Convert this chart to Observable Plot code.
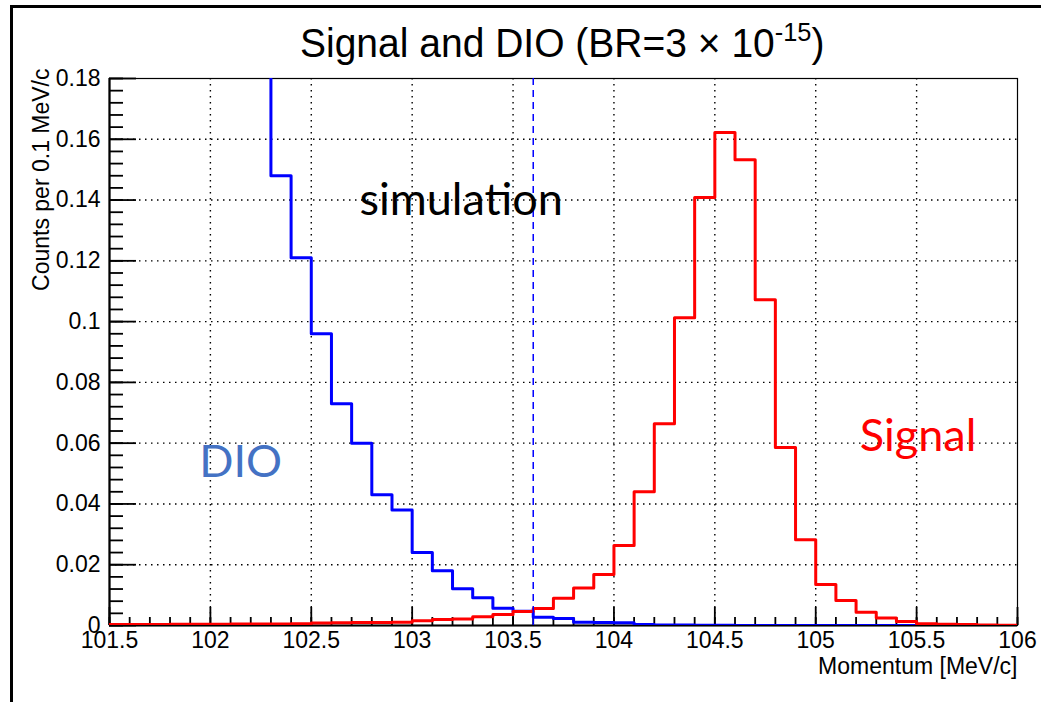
<!DOCTYPE html>
<html>
<head>
<meta charset="utf-8">
<script src="https://cdn.jsdelivr.net/npm/d3@7"></script>
<script src="https://cdn.jsdelivr.net/npm/@observablehq/plot@0.6"></script>
<style>
  html, body { margin: 0; padding: 0; background: #fff; }
  #wrap { position: relative; width: 1041px; height: 702px; overflow: hidden;
          font-family: "Liberation Sans", Arial, sans-serif; }
  #wrap svg { position: absolute; left: 0; top: 0; }
  #border { position: absolute; left: 10px; top: 5px; width: 1100px; height: 800px;
            border-top: 3px solid #000; border-left: 3px solid #000; }
  #title { position: absolute; left: 300px; top: 23px; font-size: 40px; line-height: 40px;
           white-space: nowrap; color: #000; transform: scaleX(0.975); transform-origin: 0 0; }
  #title sup { font-size: 26px; line-height: 0; position: relative; top: -2px; }
</style>
</head>
<body>
<div id="wrap">
  <div id="border"></div>
  <div id="title">Signal and DIO (BR=3 × 10<sup>-15</sup>)</div>
</div>
<script>
// Momentum bins: 45 bins of 0.1 MeV/c from 101.5 to 106
const binLow = d3.range(45).map(i => +(101.5 + 0.1 * i).toFixed(1));
const binHigh = 106;

// Decay-in-orbit spectrum (counts per bin); the first bins run off the top of the frame
const dio = [
  0.62, 0.55, 0.48, 0.42, 0.36, 0.31, 0.26, 0.215,
  0.148, 0.121, 0.096, 0.073, 0.060, 0.043, 0.038,
  0.024, 0.018, 0.0121, 0.0091, 0.0057, 0.0047, 0.0027, 0.0023,
  0.0011, 0.0010, 0.0009, 0.0003, 0.0002, 0.0002, 0.0001, 0.0001,
  0, 0, 0, 0, 0, 0, 0, 0, 0, 0, 0, 0, 0, 0
];

// Conversion-electron signal spectrum (counts per bin)
const signal = [
  0.0003, 0.0003, 0.0003, 0.0004, 0.0004, 0.0004, 0.0005, 0.0005,
  0.0005, 0.0006, 0.0008, 0.0009, 0.0010, 0.0010, 0.0011,
  0.0016, 0.0020, 0.0021, 0.0029, 0.0036, 0.0046, 0.0056, 0.0090,
  0.0123, 0.0168, 0.0263, 0.0440, 0.0664, 0.1013, 0.1408, 0.1622,
  0.1533, 0.1072, 0.0586, 0.0282, 0.0135, 0.0082, 0.0044, 0.0025,
  0.0013, 0.0006, 0.0004, 0.0003, 0.0002, 0.0001
];

// Momentum cut shown as the dashed line
const momentumCut = [103.6];

// Axis ticks
const xMajor = [101.5, 102, 102.5, 103, 103.5, 104, 104.5, 105, 105.5, 106];
const xMinor = d3.range(46).map(i => +(101.5 + 0.1 * i).toFixed(1));
const yMajor = [0, 0.02, 0.04, 0.06, 0.08, 0.1, 0.12, 0.14, 0.16, 0.18];
const yMinor = d3.range(46).map(i => +(0.004 * i).toFixed(3));

// Text labels
const annotations = ["simulation", "DIO", "Signal"];
const xTitle = "Momentum [MeV/c]";
const yTitle = "Counts per 0.1 MeV/c";

// Step-histogram outline: one vertex per bin edge, closing at the upper edge
function steps(values) {
  const pts = binLow.map((x, i) => ({x, y: values[i]}));
  pts.push({x: binHigh, y: values[values.length - 1]});
  return pts;
}

const W = 1041, H = 702;
const mL = 109, mR = 24, mT = 78, mB = 77;
const innerW = W - mL - mR, innerH = H - mT - mB;

const blue = "#0000ff", red = "#ff0000";
const dotted = "1.5,4.5";

const chart = Plot.plot({
  width: W,
  height: H,
  marginLeft: mL, marginRight: mR, marginTop: mT, marginBottom: mB,
  style: {fontFamily: "'Liberation Sans', Arial, sans-serif", fontSize: "23px", color: "#000", background: "transparent"},
  x: {domain: [101.5, 106], label: null},
  y: {domain: [0, 0.18], label: null},
  marks: [
    // dotted grid at major ticks
    Plot.ruleX(xMajor.slice(1, -1), {stroke: "#000", strokeWidth: 1.4, strokeDasharray: dotted}),
    Plot.ruleY(yMajor.slice(1, -1), {stroke: "#000", strokeWidth: 1.4, strokeDasharray: dotted}),
    Plot.frame({stroke: "#000", strokeWidth: 1.2}),
    // inward ticks
    Plot.ruleX(xMinor, {stroke: "#000", strokeWidth: 1.8, insetTop: innerH - 8}),
    Plot.ruleX(xMajor, {stroke: "#000", strokeWidth: 1.8, insetTop: innerH - 18}),
    Plot.ruleY(yMinor, {stroke: "#000", strokeWidth: 1.8, insetRight: innerW - 14}),
    Plot.ruleY(yMajor, {stroke: "#000", strokeWidth: 1.8, insetRight: innerW - 27}),
    // axis lines
    Plot.ruleX([101.5], {stroke: "#000", strokeWidth: 2.2}),
    Plot.ruleY([0], {stroke: "#000", strokeWidth: 2.2}),
    // histograms
    Plot.line(steps(dio), {x: "x", y: "y", curve: "step-after", stroke: blue, strokeWidth: 3, clip: true}),
    Plot.line(steps(signal), {x: "x", y: "y", curve: "step-after", stroke: red, strokeWidth: 3, clip: true}),
    // momentum cut
    Plot.ruleX(momentumCut, {stroke: blue, strokeWidth: 1.5, strokeDasharray: "7,5"}),
    // tick labels
    Plot.axisX(xMajor, {tickSize: 0, tickPadding: 6, fontSize: 23, tickFormat: d => String(d), label: null}),
    Plot.axisY(yMajor, {tickSize: 0, tickPadding: 9, fontSize: 23, tickFormat: d => String(d), label: null}),
    // axis titles
    Plot.text([xTitle], {frameAnchor: "bottom-right", textAnchor: "end", lineAnchor: "top", dy: 32, fontSize: 23}),
    Plot.text([yTitle], {frameAnchor: "top-left", rotate: -90, textAnchor: "end", lineAnchor: "middle", dx: -68, dy: -10, fontSize: 23}),
    // annotations
    Plot.text([annotations[0]], {x: () => 103.243, y: () => 0.1399, fontFamily: "Lato", fontSize: 45, fill: "#000"}),
    Plot.text([annotations[1]], {x: () => 102.15, y: () => 0.0537, fontFamily: "Lato", fontSize: 45, fill: "#4472c4"}),
    Plot.text([annotations[2]], {x: () => 105.507, y: () => 0.0623, fontFamily: "Lato", fontSize: 45, fill: red})
  ]
});

document.getElementById("wrap").prepend(chart);
</script>
</body>
</html>
